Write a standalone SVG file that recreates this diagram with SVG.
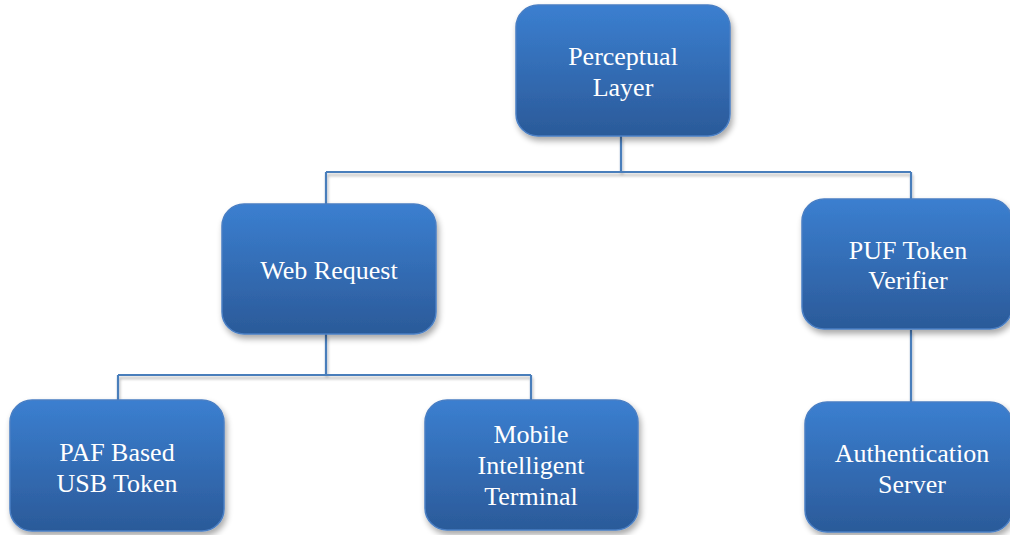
<svg xmlns="http://www.w3.org/2000/svg" width="1010" height="535" viewBox="0 0 1010 535">
<defs>
<linearGradient id="g" x1="0" y1="0" x2="0" y2="1">
<stop offset="0" stop-color="#3b7fd0"/>
<stop offset="1" stop-color="#2b5a99"/>
</linearGradient>
<filter id="sh" x="-10%" y="-10%" width="125%" height="130%">
<feGaussianBlur in="SourceAlpha" stdDeviation="3"/>
<feOffset dx="2" dy="4" result="b"/>
<feComponentTransfer><feFuncA type="linear" slope="0.35"/></feComponentTransfer>
<feMerge><feMergeNode/><feMergeNode in="SourceGraphic"/></feMerge>
</filter>
<filter id="shl" filterUnits="userSpaceOnUse" x="0" y="0" width="1010" height="535">
<feGaussianBlur in="SourceAlpha" stdDeviation="1.5"/>
<feOffset dx="1" dy="3" result="b"/>
<feComponentTransfer><feFuncA type="linear" slope="0.3"/></feComponentTransfer>
<feMerge><feMergeNode/><feMergeNode in="SourceGraphic"/></feMerge>
</filter>
</defs>
<style>
.box{fill:url(#g);stroke:#4a7fc4;stroke-width:1.5;filter:url(#sh)}
.t{font-family:"Liberation Serif","Times New Roman",serif;font-size:26px;fill:#ffffff;text-anchor:middle}
.c{fill:none;stroke:#4a7ebb;stroke-width:2.2}
</style>
<g id="connectors" filter="url(#shl)">
<path class="c" d="M621,136 V172 M326,172 H911 M326,172 V204 M911,172 V199"/>
<path class="c" d="M326,334 V375 M118,375 H531 M118,375 V400 M531,375 V400"/>
<path class="c" d="M911,330 V402"/>
</g>
<g id="perceptual">
<rect class="box" x="516" y="5" width="214" height="131" rx="22"/>
<text class="t" x="623" y="65">Perceptual</text>
<text class="t" x="623" y="96">Layer</text>
</g>
<g id="web">
<rect class="box" x="222" y="204" width="214" height="130" rx="22"/>
<text class="t" x="329" y="279">Web Request</text>
</g>
<g id="puf">
<rect class="box" x="802" y="199" width="210" height="130" rx="22"/>
<text class="t" x="908" y="259">PUF Token</text>
<text class="t" x="908" y="289">Verifier</text>
</g>
<g id="paf">
<rect class="box" x="10" y="400" width="214" height="131" rx="22"/>
<text class="t" x="117" y="461">PAF Based</text>
<text class="t" x="117" y="492">USB Token</text>
</g>
<g id="mobile">
<rect class="box" x="425" y="400" width="213" height="130" rx="22"/>
<text class="t" x="531" y="443">Mobile</text>
<text class="t" x="531" y="474">Intelligent</text>
<text class="t" x="531" y="505">Terminal</text>
</g>
<g id="auth">
<rect class="box" x="805" y="402" width="207" height="130" rx="22"/>
<text class="t" x="912" y="462">Authentication</text>
<text class="t" x="912" y="493">Server</text>
</g>
</svg>
